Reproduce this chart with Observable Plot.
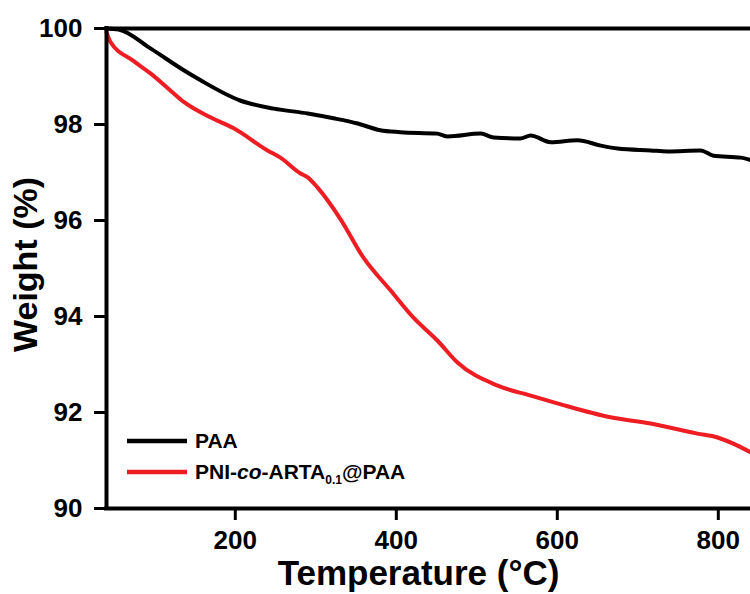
<!DOCTYPE html>
<html>
<head>
<meta charset="utf-8">
<script src="https://cdn.jsdelivr.net/npm/d3@7"></script>
<script src="https://cdn.jsdelivr.net/npm/@observablehq/plot@0.6"></script>
<style>
  html, body { margin: 0; padding: 0; background: #fff; overflow: hidden; }
</style>
</head>
<body>
<div id="chart"></div>
<script>
// PAA
const tempPAA   = [40, 55, 95, 136, 157, 206, 248, 290, 322, 352, 380, 405, 451, 464, 505, 521, 554, 567, 592, 625, 654, 675, 716, 737, 778, 794, 828, 840];
const weightPAA = [100.0, 99.98, 99.58, 99.13, 98.92, 98.5, 98.33, 98.23, 98.13, 98.02, 97.88, 97.84, 97.81, 97.75, 97.81, 97.73, 97.71, 97.77, 97.63, 97.67, 97.56, 97.5, 97.46, 97.44, 97.46, 97.35, 97.31, 97.26];
// PNI-co-ARTA0.1@PAA
const tempRED   = [40, 45, 73, 95, 120, 136, 169, 198, 240, 256, 281, 290, 302, 331, 359, 393, 421, 451, 476, 526, 567, 600, 666, 716, 774, 799, 824, 840];
const weightRED = [99.92, 99.72, 99.33, 99.06, 98.7, 98.47, 98.15, 97.92, 97.46, 97.31, 96.98, 96.9, 96.69, 96.02, 95.23, 94.54, 93.98, 93.5, 93.04, 92.56, 92.35, 92.19, 91.9, 91.77, 91.56, 91.48, 91.31, 91.17];

const xTicks = [200, 400, 600, 800];
const yTicks = [90, 92, 94, 96, 98, 100];
const xLabel = "Temperature (°C)";
const yLabel = "Weight (%)";
const seriesNames = ["PAA", "PNI-co-ARTA0.1@PAA"];
const seriesColors = ["#000000", "#ee1d23"];

const paa = tempPAA.map((t, i) => ({T: t, W: weightPAA[i]}));
const red = tempRED.map((t, i) => ({T: t, W: weightRED[i]}));

const font = "'Liberation Sans', Arial, Helvetica, sans-serif";

const svg = Plot.plot({
  width: 750,
  height: 594,
  marginLeft: 106,
  marginTop: 28,
  marginBottom: 86,
  marginRight: 0,
  x: {domain: [40, 840]},
  y: {domain: [90, 100]},
  style: {fontFamily: font, fontWeight: "bold", color: "#000", background: "#fff", overflow: "visible"},
  marks: [
    Plot.axisX({ticks: xTicks, tickSize: 12, tickPadding: 10, fontSize: 26, fontWeight: "bold", strokeWidth: 3, label: null}),
    Plot.axisY({ticks: yTicks, tickSize: 12, tickPadding: 12, fontSize: 26, fontWeight: "bold", strokeWidth: 3, label: null}),
    Plot.line(paa, {x: "T", y: "W", stroke: seriesColors[0], strokeWidth: 4, curve: "monotone-x"}),
    Plot.line(red, {x: "T", y: "W", stroke: seriesColors[1], strokeWidth: 4, curve: "monotone-x"}),
    Plot.ruleY([90, 100], {strokeWidth: 4, strokeLinecap: "square"}),
    Plot.ruleX([40], {strokeWidth: 4, strokeLinecap: "square"}),
    Plot.text([xLabel], {text: d => d, frameAnchor: "bottom", textAnchor: "middle", dx: -10, dy: 65, fontSize: 35, fontWeight: "bold", lineAnchor: "middle", letterSpacing: 1}),
    Plot.text([yLabel], {text: d => d, frameAnchor: "left", textAnchor: "middle", rotate: -90, dx: -80, dy: -4, fontSize: 34, fontWeight: "bold", lineAnchor: "middle"})
  ]
});

// Legend
const g = d3.select(svg).append("g")
  .attr("font-family", font).attr("font-weight", "bold").attr("font-size", 21)
  .attr("text-anchor", "start");
const legendRows = [441, 472];
legendRows.forEach((yy, i) => {
  g.append("line").attr("x1", 127).attr("x2", 187).attr("y1", yy).attr("y2", yy)
    .attr("stroke", seriesColors[i]).attr("stroke-width", 4.5);
});
g.append("text").attr("x", 195).attr("y", 448).attr("fill", "#000").attr("text-anchor", "start").text(seriesNames[0]);
const t2 = g.append("text").attr("x", 195).attr("y", 479).attr("fill", "#000").attr("text-anchor", "start");
t2.append("tspan").text("PNI-");
t2.append("tspan").attr("font-style", "italic").text("co");
t2.append("tspan").text("-ARTA");
t2.append("tspan").attr("font-size", 12).attr("dy", 5).text("0.1");
t2.append("tspan").attr("dy", -5).text("@PAA");

document.getElementById("chart").appendChild(svg);
</script>
</body>
</html>
